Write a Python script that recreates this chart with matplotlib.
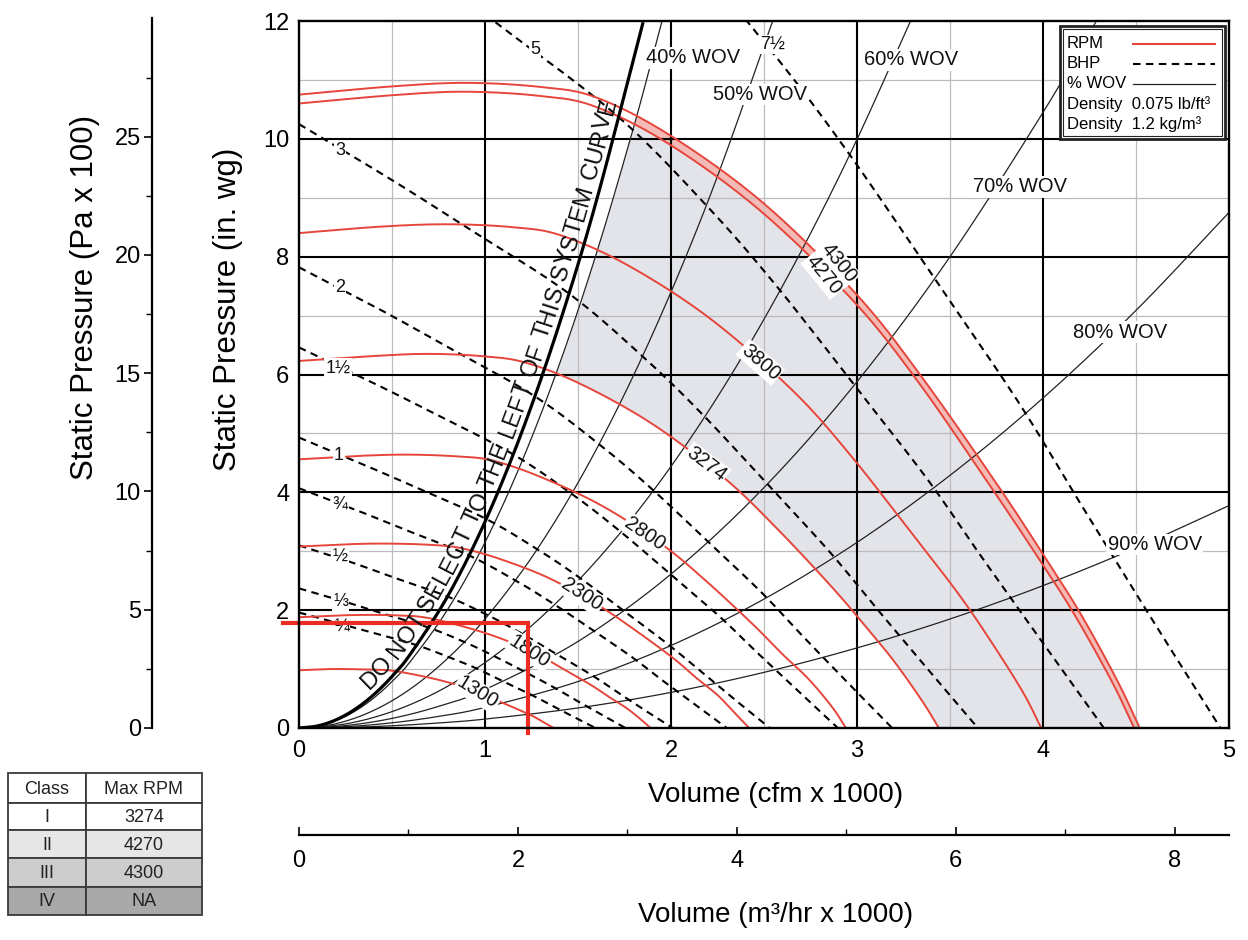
import numpy as np
import matplotlib
matplotlib.use("Agg")
import matplotlib.pyplot as plt
from matplotlib.patches import Rectangle
from matplotlib.font_manager import FontProperties, findfont, get_font
from matplotlib.transforms import IdentityTransform

plt.rcParams['font.family'] = ['Liberation Sans', 'DejaVu Sans']

# ---------------- data (volume: cfm x 1000, pressure: in. wg) ----------------
q_4300 = [0, 0.5, 0.9, 1.3, 1.6, 2.0, 2.5, 3.0, 3.35, 3.75, 4.0, 4.2, 4.4, 4.52]
p_4300 = [10.75, 10.89, 10.95, 10.88, 10.70, 10.05, 8.90, 7.35, 5.95, 4.15, 2.95, 1.95, 0.80, 0]
q_4270 = [0, 0.50, 0.89, 1.29, 1.59, 1.99, 2.48, 2.98, 3.33, 3.72, 3.97, 4.17, 4.37, 4.49]
p_4270 = [10.60, 10.74, 10.80, 10.73, 10.55, 9.91, 8.78, 7.25, 5.87, 4.09, 2.91, 1.92, 0.79, 0]
q_3800 = [0, 0.44, 0.80, 1.15, 1.41, 1.77, 2.21, 2.65, 2.96, 3.31, 3.54, 3.71, 3.89, 3.99]
p_3800 = [8.40, 8.51, 8.55, 8.50, 8.36, 7.85, 6.95, 5.74, 4.65, 3.24, 2.30, 1.52, 0.62, 0]
q_3274 = [0, 0.38, 0.69, 0.99, 1.22, 1.52, 1.90, 2.28, 2.55, 2.86, 3.05, 3.20, 3.35, 3.44]
p_3274 = [6.23, 6.31, 6.35, 6.31, 6.20, 5.83, 5.16, 4.26, 3.45, 2.41, 1.71, 1.13, 0.46, 0]
q_2800 = [0, 0.33, 0.59, 0.85, 1.04, 1.30, 1.63, 1.95, 2.18, 2.44, 2.60, 2.74, 2.87, 2.94]
p_2800 = [4.56, 4.62, 4.64, 4.61, 4.54, 4.26, 3.77, 3.12, 2.52, 1.76, 1.25, 0.83, 0.34, 0]
q_2300 = [0, 0.27, 0.48, 0.70, 0.86, 1.07, 1.34, 1.60, 1.79, 2.01, 2.14, 2.25, 2.35, 2.42]
p_2300 = [3.08, 3.12, 3.13, 3.11, 3.06, 2.88, 2.55, 2.10, 1.70, 1.19, 0.84, 0.56, 0.23, 0]
q_1800 = [0, 0.21, 0.38, 0.54, 0.67, 0.84, 1.05, 1.26, 1.40, 1.57, 1.67, 1.76, 1.84, 1.89]
p_1800 = [1.88, 1.91, 1.92, 1.91, 1.88, 1.76, 1.56, 1.29, 1.04, 0.73, 0.52, 0.34, 0.14, 0]
q_1300 = [0, 0.15, 0.27, 0.39, 0.48, 0.60, 0.76, 0.91, 1.01, 1.13, 1.21, 1.27, 1.33, 1.37]
p_1300 = [0.98, 1.00, 1.00, 0.99, 0.98, 0.92, 0.81, 0.67, 0.54, 0.38, 0.27, 0.18, 0.07, 0]

# system curve (do not select left of it) and % WOV curves
sys_q = [0, 0.1, 0.2, 0.3, 0.4, 0.5, 0.6, 0.8, 1.0, 1.2, 1.4, 1.6, 1.85]
sys_p = [0, 0.035, 0.14, 0.315, 0.56, 0.875, 1.26, 2.24, 3.5, 5.04, 6.86, 8.96, 11.98]
wov40_q = [0, 0.1, 0.2, 0.3, 0.4, 0.5, 0.6, 0.8, 1.0, 1.2, 1.4, 1.6, 1.8, 1.95]
wov40_p = [0, 0.032, 0.126, 0.284, 0.504, 0.788, 1.134, 2.016, 3.15, 4.536, 6.174, 8.064, 10.206, 11.98]
wov50_q = [0, 0.2, 0.4, 0.6, 0.8, 1.0, 1.25, 1.5, 1.75, 2.0, 2.25, 2.55]
wov50_p = [0, 0.074, 0.296, 0.666, 1.184, 1.85, 2.891, 4.163, 5.666, 7.4, 9.366, 12.03]
wov60_q = [0, 0.25, 0.5, 0.75, 1.0, 1.25, 1.5, 1.75, 2.0, 2.25, 2.5, 2.75, 3.0, 3.29]
wov60_p = [0, 0.069, 0.278, 0.624, 1.11, 1.734, 2.498, 3.399, 4.44, 5.619, 6.938, 8.394, 9.99, 12.015]
wov70_q = [0, 0.25, 0.5, 0.75, 1.0, 1.5, 2.0, 2.5, 3.0, 3.5, 4.0, 4.29]
wov70_p = [0, 0.041, 0.163, 0.367, 0.653, 1.469, 2.612, 4.081, 5.877, 7.999, 10.448, 12.018]
wov80_q = [0, 0.25, 0.5, 0.75, 1.0, 1.5, 2.0, 2.5, 3.0, 3.5, 4.0, 4.5, 5.0]
wov80_p = [0, 0.022, 0.088, 0.197, 0.35, 0.788, 1.4, 2.188, 3.15, 4.288, 5.6, 7.088, 8.75]
wov90_q = [0, 0.25, 0.5, 0.75, 1.0, 1.5, 2.0, 2.5, 3.0, 3.5, 4.0, 4.5, 5.0]
wov90_p = [0, 0.009, 0.038, 0.085, 0.151, 0.34, 0.604, 0.944, 1.359, 1.85, 2.416, 3.058, 3.775]

# brake horsepower curves
bhp75_q = [0, 0.679, 1.221, 1.954, 2.511, 2.945, 3.434, 3.868, 4.207, 4.587, 4.954]
bhp75_p = [18.88, 17.13, 15.66, 13.63, 11.60, 9.80, 7.55, 5.53, 3.78, 1.84, 0]
bhp5_q = [0, 0.593, 1.067, 1.707, 2.193, 2.573, 3.0, 3.379, 3.675, 4.007, 4.327]
bhp5_p = [14.41, 13.07, 11.95, 10.40, 8.86, 7.48, 5.76, 4.22, 2.88, 1.41, 0]
bhp3_q = [0, 0.5, 0.9, 1.44, 1.85, 2.17, 2.53, 2.85, 3.1, 3.38, 3.65]
bhp3_p = [10.25, 9.3, 8.5, 7.4, 6.3, 5.32, 4.1, 3.0, 2.05, 1.0, 0]
bhp2_q = [0, 0.437, 0.786, 1.258, 1.616, 1.896, 2.210, 2.490, 2.708, 2.953, 3.189]
bhp2_p = [7.82, 7.10, 6.49, 5.65, 4.81, 4.06, 3.13, 2.29, 1.56, 0.76, 0]
bhp15_q = [0, 0.397, 0.714, 1.143, 1.468, 1.722, 2.008, 2.262, 2.460, 2.683, 2.897]
bhp15_p = [6.46, 5.86, 5.36, 4.66, 3.97, 3.35, 2.58, 1.89, 1.29, 0.63, 0]
bhp1_q = [0, 0.347, 0.624, 0.999, 1.283, 1.505, 1.754, 1.976, 2.150, 2.344, 2.531]
bhp1_p = [4.93, 4.47, 4.09, 3.56, 3.03, 2.56, 1.97, 1.44, 0.99, 0.48, 0]
bhp075_q = [0, 0.315, 0.567, 0.907, 1.166, 1.367, 1.594, 1.796, 1.953, 2.129, 2.300]
bhp075_p = [4.07, 3.69, 3.37, 2.94, 2.50, 2.11, 1.63, 1.19, 0.81, 0.40, 0]
bhp05_q = [0, 0.275, 0.495, 0.792, 1.018, 1.194, 1.392, 1.568, 1.706, 1.860, 2.009]
bhp05_p = [3.10, 2.82, 2.57, 2.24, 1.91, 1.61, 1.24, 0.91, 0.62, 0.30, 0]
bhp033_q = [0, 0.240, 0.433, 0.692, 0.889, 1.043, 1.216, 1.370, 1.490, 1.625, 1.755]
bhp033_p = [2.37, 2.15, 1.96, 1.71, 1.46, 1.23, 0.95, 0.69, 0.47, 0.23, 0]
bhp025_q = [0, 0.218, 0.393, 0.629, 0.808, 0.948, 1.105, 1.245, 1.354, 1.476, 1.594]
bhp025_p = [1.96, 1.77, 1.62, 1.41, 1.20, 1.02, 0.78, 0.57, 0.39, 0.19, 0]

# operating point marked in red
op_q, op_p = 1.23, 1.78

# class table
table_class = ['I', 'II', 'III', 'IV']
table_rpm = ['3274', '4270', '4300', 'NA']

PA_PER_INWG = 2.4909     # (Pa x 100) per in. wg
M3H_PER_CFM = 1.699      # (m3/hr x 1000) per (cfm x 1000)

# ---------------- figure ----------------
W, H = 1248.0, 940.0
L, R, T, B = 299, 1229, 21, 728
fig = plt.figure(figsize=(W / 100, H / 100), dpi=100)


def fr(x0, y0, x1, y1):
    return [x0 / W, 1 - y1 / H, (x1 - x0) / W, (y1 - y0) / H]


def smooth(q, p, n=24):
    """Catmull-Rom rendering through the read points."""
    P = np.column_stack([q, p]).astype(float)
    E = np.vstack([2 * P[0] - P[1], P, 2 * P[-1] - P[-2]])
    t = np.linspace(0, 1, n + 1)[1:, None]
    out = [P[:1]]
    for i in range(1, len(E) - 2):
        p0, p1, p2, p3 = E[i - 1], E[i], E[i + 1], E[i + 2]
        out.append(0.5 * (2 * p1 + (-p0 + p2) * t + (2 * p0 - 5 * p1 + 4 * p2 - p3) * t ** 2
                          + (-p0 + 3 * p1 - 3 * p2 + p3) * t ** 3))
    S = np.vstack(out)
    return S[:, 0], S[:, 1]


ax = fig.add_axes(fr(L, T, R, B))
ax.set_xlim(0, 5)
ax.set_ylim(0, 12)

RED = '#e6453b'
GRAYFILL = '#e2e4e9'
PINK = '#f4bab5'

# shaded regions (right of 40% WOV curve)
qq = np.linspace(0, 5, 3001)


def on_grid(q, p, right=0.0):
    sq, sp = smooth(q, p)
    return np.interp(qq, sq, sp, right=right)


y4300 = on_grid(q_4300, p_4300)
y4270 = on_grid(q_4270, p_4270)
y3274 = on_grid(q_3274, p_3274)
ywall = on_grid(wov40_q, wov40_p, right=1e9)
up = np.minimum(y4270, ywall)
ax.fill_between(qq, y3274, up, where=up > y3274, interpolate=True, color=GRAYFILL, lw=0, zorder=0.5)
up2 = np.minimum(y4300, ywall)
ax.fill_between(qq, y4270, up2, where=up2 > y4270, interpolate=True, color=PINK, lw=0, zorder=0.6)

# grid
for v in np.arange(0.5, 5, 1.0):
    ax.axvline(v, color='#bcbcbc', lw=0.9, zorder=1)
for v in np.arange(1, 12, 2):
    ax.axhline(v, color='#bcbcbc', lw=0.9, zorder=1)
for v in range(1, 5):
    ax.axvline(v, color='k', lw=1.5, zorder=1.5)
for v in range(2, 12, 2):
    ax.axhline(v, color='k', lw=1.5, zorder=1.5)

# % WOV curves
for q, p in [(wov40_q, wov40_p), (wov50_q, wov50_p), (wov60_q, wov60_p),
             (wov70_q, wov70_p), (wov80_q, wov80_p), (wov90_q, wov90_p)]:
    ax.plot(*smooth(q, p), color='#222222', lw=0.9, zorder=2)
ax.plot(*smooth(sys_q, sys_p), color='k', lw=2.3, zorder=3.5, solid_capstyle='butt')

# BHP curves
for q, p in [(bhp75_q, bhp75_p), (bhp5_q, bhp5_p), (bhp3_q, bhp3_p), (bhp2_q, bhp2_p),
             (bhp15_q, bhp15_p), (bhp1_q, bhp1_p), (bhp075_q, bhp075_p), (bhp05_q, bhp05_p),
             (bhp033_q, bhp033_p), (bhp025_q, bhp025_p)]:
    ax.plot(*smooth(q, p), color='k', lw=1.5, dashes=(3.6, 2.6), zorder=2.5)

# RPM curves
for q, p in [(q_4300, p_4300), (q_4270, p_4270), (q_3800, p_3800), (q_3274, p_3274),
             (q_2800, p_2800), (q_2300, p_2300), (q_1800, p_1800), (q_1300, p_1300)]:
    ax.plot(*smooth(q, p), color=RED, lw=1.4, zorder=3)

# operating point selection lines
ax.plot([-0.086, op_q, op_q], [op_p, op_p, -0.09], color='#ea2c22', lw=3.0,
        zorder=6, clip_on=False, solid_joinstyle='miter')

box = dict(boxstyle='square,pad=0.06', fc='white', ec='none')
# RPM labels
for txt, x, y, rot in [('4300', 2.90, 7.89, -51), ('4270', 2.82, 7.69, -51),
                       ('3800', 2.48, 6.21, -41), ('3274', 2.19, 4.48, -37),
                       ('2800', 1.86, 3.30, -34), ('2300', 1.52, 2.26, -33),
                       ('1800', 1.24, 1.30, -33), ('1300', 0.96, 0.60, -32)]:
    ax.text(x, y, txt, rotation=rot, rotation_mode='anchor', ha='center', va='center',
            fontsize=14.5, color='#111', bbox=box, zorder=5)

# BHP labels
for txt, x, y in [('5', 1.269, 11.51), ('7½', 2.548, 11.6), ('3', 0.22, 9.80),
                  ('2', 0.22, 7.47), ('1½', 0.21, 6.11), ('1', 0.215, 4.62),
                  ('¾', 0.22, 3.8), ('½', 0.22, 2.89), ('⅓', 0.225, 2.14), ('¼', 0.23, 1.72)]:
    ax.text(x, y, txt, ha='center', va='center', fontsize=13, color='#111', bbox=box, zorder=5)

# WOV labels
for txt, x, y in [('40% WOV', 2.118, 11.375), ('50% WOV', 2.478, 10.75), ('60% WOV', 3.29, 11.34),
                  ('70% WOV', 3.876, 9.185), ('80% WOV', 4.414, 6.72), ('90% WOV', 4.60, 3.11)]:
    ax.text(x, y, txt, ha='center', va='center', fontsize=14.5, color='#111', bbox=box, zorder=5)

# curved text along the system curve
fp = FontProperties(family='Liberation Sans', size=17.3)
ft = get_font(findfont(fp))
ft.set_size(fp.get_size_in_points(), 72)


def adv(c):
    g = ft.load_char(ord(c))
    return g.linearHoriAdvance / 65536.0 * 100 / 72.0


coef = np.polyfit(sys_q, sys_p, 2)
qd = np.linspace(0.05, 1.95, 2000)
pts = ax.transData.transform(np.column_stack([qd, np.polyval(coef, qd)]))
arc = np.concatenate([[0], np.cumsum(np.hypot(*np.diff(pts, axis=0).T))])
s_pos = np.interp(0.40, qd, arc)
label = 'DO NOT SELECT TO THE LEFT OF THIS SYSTEM CURVE'
for ch in label:
    a = adv(ch)
    sc = s_pos + a / 2
    s_pos += a
    if ch == ' ':
        continue
    px = np.interp(sc, arc, pts[:, 0]); py = np.interp(sc, arc, pts[:, 1])
    dx = np.interp(sc + 2, arc, pts[:, 0]) - np.interp(sc - 2, arc, pts[:, 0])
    dy = np.interp(sc + 2, arc, pts[:, 1]) - np.interp(sc - 2, arc, pts[:, 1])
    n = np.hypot(dx, dy); tx, ty = dx / n, dy / n
    bx, by = px - ty * 7, py + tx * 7
    fig.text(bx, by, ch, transform=IdentityTransform(), fontproperties=fp,
             rotation=np.degrees(np.arctan2(ty, tx)), rotation_mode='anchor',
             ha='center', va='baseline', color='#111', zorder=6)

# axes styling
ax.set_xticks(range(6))
ax.set_yticks(range(0, 13, 2))
ax.tick_params(axis='both', length=0, labelsize=17)
ax.tick_params(axis='x', pad=8.5)
ax.tick_params(axis='y', pad=7)
for s in ax.spines.values():
    s.set_linewidth(1.7)
    s.set_zorder(7)


# legend box
def apt(px, py):
    return ((px - L) / (R - L), (B - py) / (B - T))


x0, y0 = apt(1060, 139); x1, y1 = apt(1225, 26)
ax.add_patch(Rectangle((x0, y0), x1 - x0, y1 - y0, transform=ax.transAxes, fc='white',
                       ec='#222', lw=2.0, zorder=10, clip_on=False))
x0, y0 = apt(1063, 136); x1, y1 = apt(1222, 29)
ax.add_patch(Rectangle((x0, y0), x1 - x0, y1 - y0, transform=ax.transAxes, fc='none',
                       ec='#222', lw=0.8, zorder=10.5, clip_on=False))
rows = [('RPM', 44), ('BHP', 64), ('% WOV', 84), ('Density  0.075 lb/ft³', 104), ('Density  1.2 kg/m³', 124)]
for txt, py in rows:
    xx, yy = apt(1067, py)
    ax.text(xx, yy, txt, transform=ax.transAxes, fontsize=12, ha='left', va='center', zorder=11)
for (sty, py) in [('rpm', 44), ('bhp', 64), ('wov', 84)]:
    xa, ya = apt(1133, py); xb, _ = apt(1215, py)
    if sty == 'rpm':
        ax.plot([xa, xb], [ya, ya], transform=ax.transAxes, color=RED, lw=1.5, zorder=11, clip_on=False)
    elif sty == 'bhp':
        ax.plot([xa, xb], [ya, ya], transform=ax.transAxes, color='k', lw=1.5, dashes=(3.6, 2.6), zorder=11, clip_on=False)
    else:
        ax.plot([xa, xb], [ya, ya], transform=ax.transAxes, color='#222', lw=0.9, zorder=11, clip_on=False)

# Pa axis
ax_pa = fig.add_axes(fr(152, 18, 152.1, B))
ax_pa.set_ylim(0, (B - 18) / (B - T) * 12 * PA_PER_INWG)
ax_pa.patch.set_visible(False)
for s in ['top', 'right', 'bottom']:
    ax_pa.spines[s].set_visible(False)
ax_pa.spines['left'].set_linewidth(1.6)
ax_pa.set_xticks([])
ax_pa.set_yticks([0, 5, 10, 15, 20, 25])
ax_pa.set_yticks(np.arange(2.5, 30, 5), minor=True)
ax_pa.tick_params(axis='y', which='major', length=6, width=1.2, labelsize=17, pad=2)
ax_pa.tick_params(axis='y', which='minor', length=4, width=1.0)

# m3/hr axis
ax_m = fig.add_axes(fr(L, 834.9, R, 835))
ax_m.set_xlim(0, 5 * M3H_PER_CFM)
ax_m.patch.set_visible(False)
for s in ['top', 'right', 'left']:
    ax_m.spines[s].set_visible(False)
ax_m.spines['bottom'].set_linewidth(1.6)
ax_m.set_yticks([])
ax_m.set_xticks([0, 2, 4, 6, 8])
ax_m.set_xticks([1, 3, 5, 7], minor=True)
ax_m.tick_params(axis='x', which='major', direction='in', length=6, width=1.2, labelsize=17, pad=11)
ax_m.tick_params(axis='x', which='minor', direction='in', length=4, width=1.0)

# axis titles
fig.text(228 / W, 1 - 309 / H, 'Static Pressure (in. wg)', rotation=90, ha='center', va='center', fontsize=22.5)
fig.text(85 / W, 1 - 297 / H, 'Static Pressure (Pa x 100)', rotation=90, ha='center', va='center', fontsize=22.5)
fig.text(776 / W, 1 - 795 / H, 'Volume (cfm x 1000)', ha='center', va='center', fontsize=20)
fig.text(776 / W, 1 - 915 / H, 'Volume (m³/hr x 1000)', ha='center', va='center', fontsize=20)

# class table
tab = fig.add_axes(fr(6, 771, 204, 917))
tab.set_xlim(6, 204); tab.set_ylim(917, 771); tab.axis('off')
row_y = [773, 803, 830, 858, 887, 915]
col_x = [8, 86, 202]
fills = ['white', 'white', '#e6e6e6', '#cdcdcd', '#a9a9a9']
cells = [('Class', 'Max RPM')] + list(zip(table_class, table_rpm))
for r, (c1, c2) in enumerate(cells):
    for c, txt in enumerate((c1, c2)):
        tab.add_patch(Rectangle((col_x[c], row_y[r]), col_x[c + 1] - col_x[c], row_y[r + 1] - row_y[r],
                                fc=fills[r], ec='#3a3a3a', lw=1.3))
        tab.text((col_x[c] + col_x[c + 1]) / 2, (row_y[r] + row_y[r + 1]) / 2 + 1, txt,
                 ha='center', va='center', fontsize=13, color='#222')

fig.savefig('out.png', dpi=100)
